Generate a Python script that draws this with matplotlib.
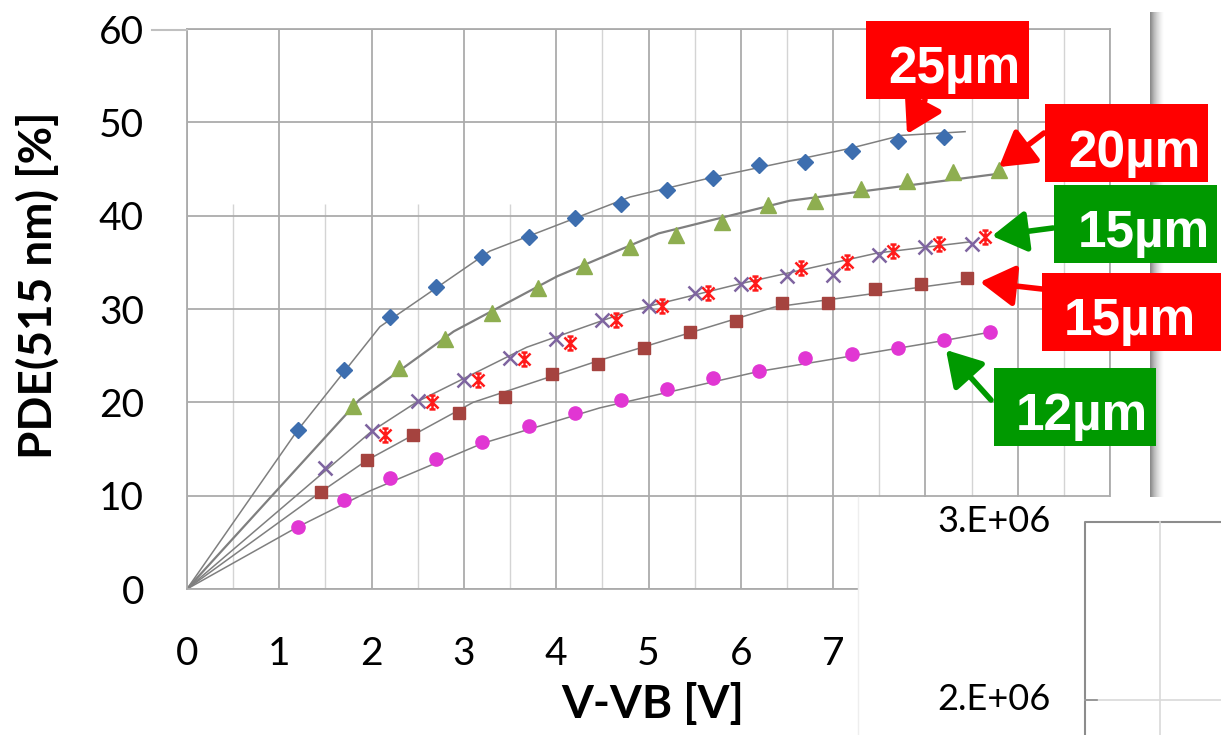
import numpy as np
import matplotlib
matplotlib.use("Agg")
import matplotlib.pyplot as plt
from matplotlib.patches import Rectangle, FancyArrowPatch
from matplotlib.lines import Line2D
from matplotlib.path import Path

plt.rcParams['font.family'] = ['Lato', 'DejaVu Sans']

# measured points (V-VB [V], PDE [%])
v_25 = [1.2, 1.7, 2.2, 2.7, 3.2, 3.7, 4.2, 4.7, 5.2, 5.7, 6.2, 6.7, 7.2, 7.7, 8.2]
pde_25 = [17.0, 23.5, 29.1, 32.4, 35.6, 37.7, 39.7, 41.3, 42.7, 44.0, 45.4, 45.8, 46.9, 48.0, 48.4]

v_20 = [1.8, 2.3, 2.8, 3.3, 3.8, 4.3, 4.8, 5.3, 5.8, 6.3, 6.8, 7.3, 7.8, 8.3, 8.8]
pde_20 = [19.6, 23.7, 26.8, 29.6, 32.2, 34.6, 36.6, 37.9, 39.3, 41.1, 41.6, 42.9, 43.7, 44.7, 44.9]

v_15x = [1.5, 2.0, 2.5, 3.0, 3.5, 4.0, 4.5, 5.0, 5.5, 6.0, 6.5, 7.0, 7.5, 8.0, 8.5]
pde_15x = [13.0, 16.9, 20.1, 22.4, 24.8, 26.8, 28.8, 30.3, 31.7, 32.7, 33.5, 33.6, 35.8, 36.6, 37.0]

v_15s = [2.15, 2.65, 3.15, 3.65, 4.15, 4.65, 5.15, 5.65, 6.15, 6.65, 7.15, 7.65, 8.15, 8.65]
pde_15s = [16.5, 20.0, 22.4, 24.6, 26.4, 28.8, 30.3, 31.7, 32.8, 34.4, 35.0, 36.2, 37.0, 37.7]

v_15q = [1.45, 1.95, 2.45, 2.95, 3.45, 3.95, 4.45, 4.95, 5.45, 5.95, 6.45, 6.95, 7.45, 7.95, 8.45]
pde_15q = [10.4, 13.8, 16.5, 18.9, 20.6, 23.0, 24.1, 25.8, 27.5, 28.7, 30.6, 30.6, 32.1, 32.7, 33.3]

v_12 = [1.2, 1.7, 2.2, 2.7, 3.2, 3.7, 4.2, 4.7, 5.2, 5.7, 6.2, 6.7, 7.2, 7.7, 8.2, 8.7]
pde_12 = [6.6, 9.5, 11.9, 13.9, 15.8, 17.5, 18.9, 20.2, 21.4, 22.6, 23.4, 24.8, 25.2, 25.8, 26.7, 27.5]

# model curves (grey lines)
fit_25_v = [0, 1.19, 2.09, 3.28, 4.8, 5.69, 7.18, 7.74, 8.43]
fit_25 = [0, 16.9, 28.1, 36.2, 42.0, 44.1, 47.2, 48.6, 49.0]
fit_20_v = [0, 1.87, 2.89, 4.01, 5.11, 6.53, 8.8]
fit_20 = [0, 20.3, 27.6, 33.5, 38.1, 41.6, 44.5]
fit_15x_v = [0, 2.0, 2.5, 3.68, 4.8, 5.99, 7.48, 8.49]
fit_15x = [0, 16.9, 20.1, 25.9, 29.8, 32.7, 36.0, 37.2]
fit_15q_v = [0, 1.45, 1.95, 3.1, 4.47, 6.36, 8.44]
fit_15q = [0, 10.4, 13.8, 20.0, 24.5, 30.2, 33.0]
fit_12_v = [0, 1.19, 1.98, 3.2, 4.47, 6.19, 8.19, 8.69]
fit_12 = [0, 6.6, 10.5, 15.6, 19.4, 23.3, 26.6, 27.5]

x_ticks = [0, 1, 2, 3, 4, 5, 6, 7, 8, 9, 10]
x_labels = ['0', '1', '2', '3', '4', '5', '6', '7', '', '', '']
y_ticks = [0, 10, 20, 30, 40, 50, 60]

tag_texts = ['25µm', '20µm', '15µm', '15µm', '12µm']
tag_colors = ['#ff0000', '#ff0000', '#009900', '#ff0000', '#009900']

W, H = 1221, 735
fig = plt.figure(figsize=(W / 100, H / 100), dpi=100)


def fx(px):
    return px / W


def fy(py):
    return 1 - py / H


ax = fig.add_axes([fx(187), fy(589), (1110 - 187) / W, (589 - 29) / H])
ax.set_xlim(0, 10)
ax.set_ylim(0, 60)
ax.set_axisbelow(True)

gcol = '#ababab'
ax.grid(True, which='major', color=gcol, lw=1.3)
for xm in np.arange(0.5, 10, 1.0):
    top = 41.2 if xm < 4 else 60
    ax.vlines(xm, 0, top, color='#d4d4d4', lw=1.0, zorder=0.5)
for s in ax.spines.values():
    s.set_color(gcol)
    s.set_linewidth(1.3)

lc = '#7f7f7f'
ax.plot(fit_25_v, fit_25, color=lc, lw=1.1, zorder=2)
ax.plot(fit_20_v, fit_20, color=lc, lw=1.6, zorder=2)
ax.plot(fit_15x_v, fit_15x, color=lc, lw=1.1, zorder=2)
ax.plot(fit_15q_v, fit_15q, color=lc, lw=1.1, zorder=2)
ax.plot(fit_12_v, fit_12, color=lc, lw=1.1, zorder=2)

# Excel-like star: an X with a vertical bar
star = Path([(-1, -1), (1, 1), (-1, 1), (1, -1), (0, -1.15), (0, 1.15),
             (-0.5, 1.15), (0.5, 1.15), (-0.5, -1.15), (0.5, -1.15)],
            [Path.MOVETO, Path.LINETO] * 5)

ax.plot(v_25, pde_25, ls='none', marker='D', ms=8.5, color='#3d6eaf', zorder=3)
ax.plot(v_20, pde_20, ls='none', marker='^', ms=11, color='#8eae50', zorder=3)
ax.plot(v_15x, pde_15x, ls='none', marker='x', ms=10, mew=1.8, color='#7e64a0', zorder=3)
ax.plot(v_15s, pde_15s, ls='none', marker=star, ms=10, mew=1.8, color='#ff1a1a', zorder=3)
ax.plot(v_15q, pde_15q, ls='none', marker='s', ms=8.5, color='#a5433f', zorder=3)
ax.plot(v_12, pde_12, ls='none', marker='o', ms=9.5, color='#e136d3', zorder=3)

ax.set_xticks(x_ticks)
ax.set_xticklabels(x_labels)
ax.set_yticks(y_ticks)
ax.tick_params(length=0, labelsize=28, colors='black')
ax.tick_params(axis='x', pad=34)
ax.tick_params(axis='y', pad=31)

ax.set_xlabel('V-VB [V]', fontsize=33, fontweight='bold')
ax.xaxis.set_label_coords(0.504, -0.168)
ax.set_ylabel('PDE(515 nm) [%]', fontsize=33, fontweight='bold')
ax.yaxis.set_label_coords(-0.138, 0.543)

# small tick line left of 60
fig.add_artist(Line2D([fx(152), fx(187)], [fy(30), fy(30)], color='#c0c0c0', lw=1.5))

# shadow strip on the right
sh = fig.add_axes([fx(1150), fy(497), 14 / W, (497 - 12) / H])
sh.imshow(np.linspace(0.55, 0.0, 30)[None, :], aspect='auto', cmap='Greys', vmin=0, vmax=1)
sh.axis('off')

# white panel lower right with pieces of another chart
fig.add_artist(Rectangle((fx(858), 0), 1 - fx(858), fy(497), facecolor='white',
                         edgecolor='none', zorder=5))
fig.add_artist(Line2D([fx(858), fx(858)], [fy(497), 0], color='#eeeeee', lw=1, zorder=6))
fig.text(fx(937), fy(522), '3.E+06', fontsize=26, ha='left', va='center', zorder=6)
fig.text(fx(937), fy(700), '2.E+06', fontsize=26, ha='left', va='center', zorder=6)
fig.add_artist(Line2D([fx(1085), fx(1085), 1], [0, fy(522), fy(522)], color='#8c8c8c', lw=1.5, zorder=6))
fig.add_artist(Line2D([fx(1160), fx(1160)], [0, fy(522)], color='#d9d9d9', lw=1.2, zorder=6))
fig.add_artist(Line2D([fx(1085), 1], [fy(700), fy(700)], color='#d9d9d9', lw=1.2, zorder=6))
fig.add_artist(Line2D([fx(1085), fx(1097)], [fy(700), fy(700)], color='#8c8c8c', lw=1.2, zorder=6))

# size tags with arrows
tag_boxes = [(866, 21, 1029, 99), (1045, 104, 1208, 182), (1054, 185, 1217, 263),
             (1042, 273, 1221, 351), (994, 368, 1156, 446)]
tag_text_pos = [(1020, 83), (1200, 167), (1210, 247), (1196, 335), (1148, 430)]
tag_arrows = [((925, 100), (907, 134)), ((1044, 133), (999, 167)), ((1053, 228), (992, 236)),
              ((1042, 289), (980, 282)), ((991, 400), (946, 350))]

for txt, col, box, tp, arr in zip(tag_texts, tag_colors, tag_boxes, tag_text_pos, tag_arrows):
    x0, y0, x1, y1 = box
    fig.add_artist(Rectangle((fx(x0), fy(y1)), fx(x1) - fx(x0), fy(y0) - fy(y1),
                             facecolor=col, edgecolor='none', zorder=7))
    fig.text(fx(tp[0]), fy(tp[1]), txt, color='white', fontsize=37, fontweight='bold',
             family=['Liberation Sans', 'DejaVu Sans'], ha='right', va='baseline', zorder=8)
    (ax0, ay0), (ax1, ay1) = arr
    fig.add_artist(FancyArrowPatch((fx(ax0), fy(ay0)), (fx(ax1), fy(ay1)),
                                   transform=fig.transFigure,
                                   arrowstyle='-|>,head_length=1.0,head_width=0.6',
                                   mutation_scale=21, lw=4, color=col,
                                   shrinkA=0, shrinkB=0, zorder=8))

fig.savefig('out.png', dpi=100)
